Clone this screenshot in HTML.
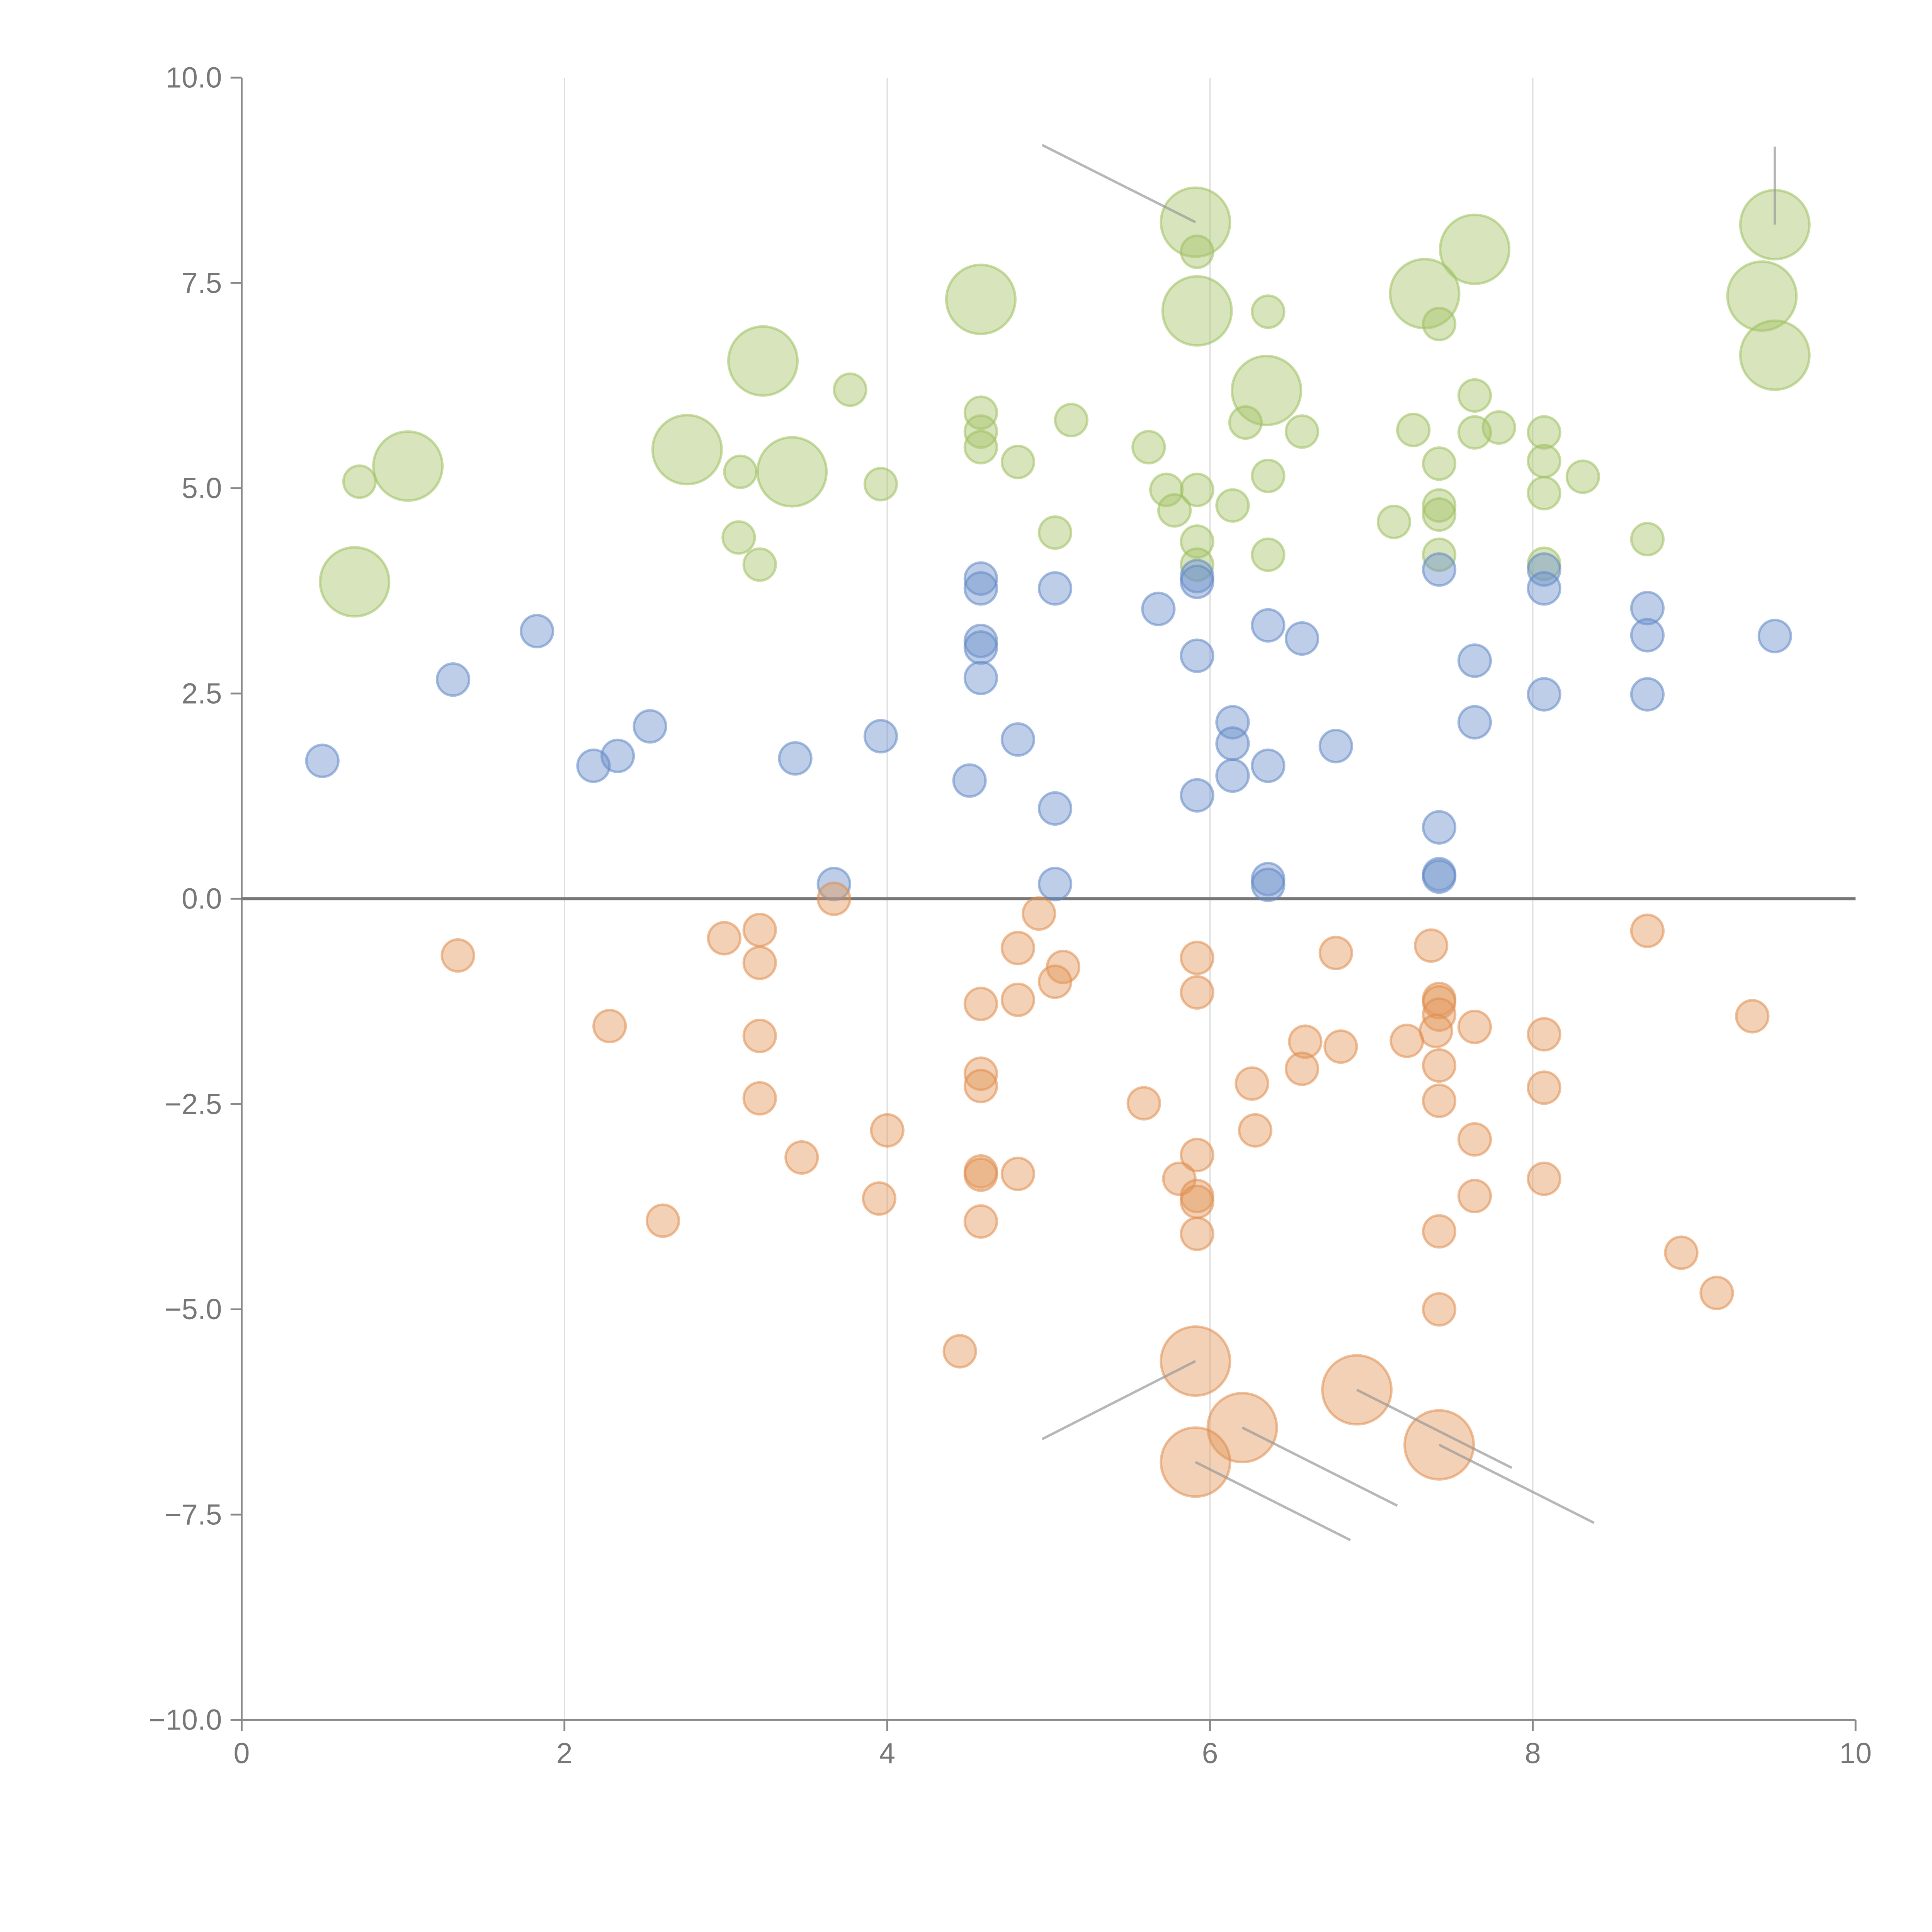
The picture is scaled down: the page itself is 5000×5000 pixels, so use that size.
<!DOCTYPE html>
<html><head><meta charset="utf-8"><style>
html,body{margin:0;padding:0;background:#fff;width:5000px;height:5000px;overflow:hidden}
svg{display:block}
text{font-family:"Liberation Sans",sans-serif;fill:#777}
</style></head><body>
<svg id="chart" width="5000" height="5000" viewBox="0 0 1567 1567" xmlns="http://www.w3.org/2000/svg">
<g id="grid"></g>
<g id="axes"></g>
<g id="marks"></g>
<g id="annot"></g>
</svg>
<script>
const xTicks=[0,2,4,6,8,10];
const yTicks=[10,7.5,5,2.5,0,-2.5,-5,-7.5,-10];
const yTickLabels=["10.0","7.5","5.0","2.5","0.0","\u22122.5","\u22125.0","\u22127.5","\u221210.0"];
const greenX=[5.91,9.50,7.64,5.92,4.58,7.33,9.42,5.92,6.36,7.42,3.23,9.50,6.35,3.77,7.64,4.58,5.14,6.22,4.58,6.57,7.26,7.79,7.64,8.07,4.58,5.62,2.76,1.03,7.42,8.07,4.81,3.41,3.09,6.36,8.31,0.73,3.96,5.73,5.92,8.07,6.14,5.78,7.42,7.42,7.14,5.04,8.71,3.08,5.92,7.42,6.36,3.21,5.92,8.07,0.70];
const greenY=[8.24,8.21,7.91,7.88,7.30,7.37,7.34,7.16,7.15,7.00,6.55,6.62,6.19,6.20,6.13,5.92,5.83,5.80,5.69,5.69,5.71,5.74,5.68,5.68,5.50,5.50,5.47,5.27,5.30,5.33,5.32,5.20,5.20,5.15,5.14,5.08,5.05,4.98,4.98,4.94,4.79,4.73,4.79,4.68,4.59,4.46,4.38,4.40,4.35,4.19,4.19,4.07,4.07,4.08,3.86];
const greenBig=[1,1,1,0,1,1,1,1,0,0,1,1,1,0,0,0,0,0,0,0,0,0,0,0,0,0,1,1,0,0,0,1,0,0,0,0,0,0,0,0,0,0,0,0,0,0,0,0,0,0,0,0,0,0,1];
const blueX=[4.58,7.42,5.92,8.07,4.58,5.04,5.92,8.07,5.68,8.71,6.36,1.83,6.57,9.50,8.71,4.58,4.58,5.92,7.64,1.31,4.58,8.07,8.71,6.14,7.64,2.53,3.96,4.81,6.14,6.78,0.50,2.33,3.43,2.18,6.36,6.14,4.51,5.92,5.04,7.42,7.42,7.42,6.36,6.36,3.67,5.04];
const blueY=[3.90,4.01,3.93,4.01,3.78,3.78,3.86,3.78,3.53,3.54,3.33,3.26,3.17,3.20,3.21,3.14,3.06,2.96,2.90,2.67,2.69,2.49,2.49,2.15,2.15,2.10,1.98,1.94,1.89,1.86,1.68,1.74,1.71,1.62,1.62,1.50,1.44,1.26,1.10,0.87,0.30,0.27,0.24,0.17,0.18,0.18];
const orangeX=[3.67,4.94,8.71,3.21,2.99,7.37,4.81,6.78,1.34,5.92,3.21,5.09,5.04,5.92,7.42,7.42,4.58,4.81,9.36,7.42,2.28,7.64,7.40,3.21,8.07,7.22,6.59,6.81,7.42,6.57,4.58,4.58,6.26,8.07,3.21,7.42,5.59,6.28,4.00,7.64,5.92,3.47,4.58,4.81,4.58,8.07,5.81,5.92,7.64,5.92,3.95,2.61,4.58,7.42,5.92,8.92,9.14,7.42,4.45,5.91,6.91,6.20,7.42,5.91];
const orangeY=[0.0,-0.18,-0.39,-0.38,-0.48,-0.57,-0.60,-0.66,-0.69,-0.72,-0.78,-0.83,-1.01,-1.14,-1.22,-1.26,-1.28,-1.23,-1.43,-1.41,-1.55,-1.56,-1.61,-1.67,-1.65,-1.73,-1.74,-1.80,-2.03,-2.07,-2.13,-2.28,-2.25,-2.30,-2.43,-2.46,-2.49,-2.82,-2.82,-2.93,-3.12,-3.15,-3.32,-3.35,-3.36,-3.41,-3.41,-3.62,-3.62,-3.69,-3.65,-3.92,-3.93,-4.05,-4.08,-4.31,-4.80,-5.00,-5.51,-5.63,-5.98,-6.44,-6.65,-6.86];
const orangeBig=orangeX.map((v,i)=>i>=59?1:0);
const annoFromX=[5.91,9.50,5.91,6.91,6.20,7.42,5.91];
const annoFromY=[8.24,8.21,-5.63,-5.98,-6.44,-6.65,-6.86];
const annoToX=[4.96,9.50,4.96,7.87,7.16,8.38,6.87];
const annoToY=[9.18,9.16,-6.58,-6.93,-7.39,-7.60,-7.81];

const L=196,R=1505,T=63,B=1395;
const sx=v=>L+(v-0)/(10-0)*(R-L);
const sy=v=>B-(v+10)/20*(B-T);
const NS="http://www.w3.org/2000/svg";
function mk(tag,attrs,parent){const e=document.createElementNS(NS,tag);for(const k in attrs)e.setAttribute(k,attrs[k]);parent.appendChild(e);return e;}
const grid=document.getElementById('grid'),axes=document.getElementById('axes'),marks=document.getElementById('marks'),annot=document.getElementById('annot');

xTicks.forEach(t=>{
  if(t>0&&t<10){const g=mk('line',{x1:sx(t),x2:sx(t),y1:T,y2:B,stroke:'#dddddd','stroke-width':1},grid);
  
  }
  const tk=mk('line',{x1:sx(t),x2:sx(t),y1:B,y2:B+9,stroke:'#888','stroke-width':1.5},axes);
  
  
  const lb=mk('text',{x:sx(t),y:B+35,'text-anchor':'middle','font-size':23.5},axes);
  lb.textContent=String(t);
  
  
});
yTicks.forEach((t,i)=>{
  const tk=mk('line',{x1:L-9,x2:L,y1:sy(t),y2:sy(t),stroke:'#888','stroke-width':1.5},axes);
  
  
  const lb=mk('text',{x:L-16,y:sy(t)+8,'text-anchor':'end','font-size':23.5},axes);
  lb.textContent=yTickLabels[i];
  
  
});
const xa=mk('line',{x1:L,x2:R,y1:B,y2:B,stroke:'#888','stroke-width':1.5},axes);


const ya=mk('line',{x1:L,x2:L,y1:T,y2:B,stroke:'#888','stroke-width':1.5},axes);


const zl=mk('line',{x1:L,x2:R,y1:sy(0),y2:sy(0),stroke:'#777','stroke-width':2.5},axes);



function series(xs,ys,big,fill,stroke,name){
  xs.forEach((x,i)=>{
    const c=mk('circle',{cx:sx(x),cy:sy(ys[i]),r:big&&big[i]?28:13,fill:fill,'fill-opacity':0.45,stroke:stroke,'stroke-opacity':0.55,'stroke-width':2},marks);
    
    
  });
}
series(greenX,greenY,greenBig,'#a6c46a','#9dbf5c','bubble-green');
series(blueX,blueY,null,'#6f93cc','#5f86c4','bubble-blue');
series(orangeX,orangeY,orangeBig,'#e3995e','#e08c4c','bubble-orange');

annoFromX.forEach((x,i)=>{
  const l=mk('line',{x1:sx(x),y1:sy(annoFromY[i]),x2:sx(annoToX[i]),y2:sy(annoToY[i]),stroke:'#999','stroke-opacity':0.7,'stroke-width':2},annot);
  
  
});
</script>
</body></html>
